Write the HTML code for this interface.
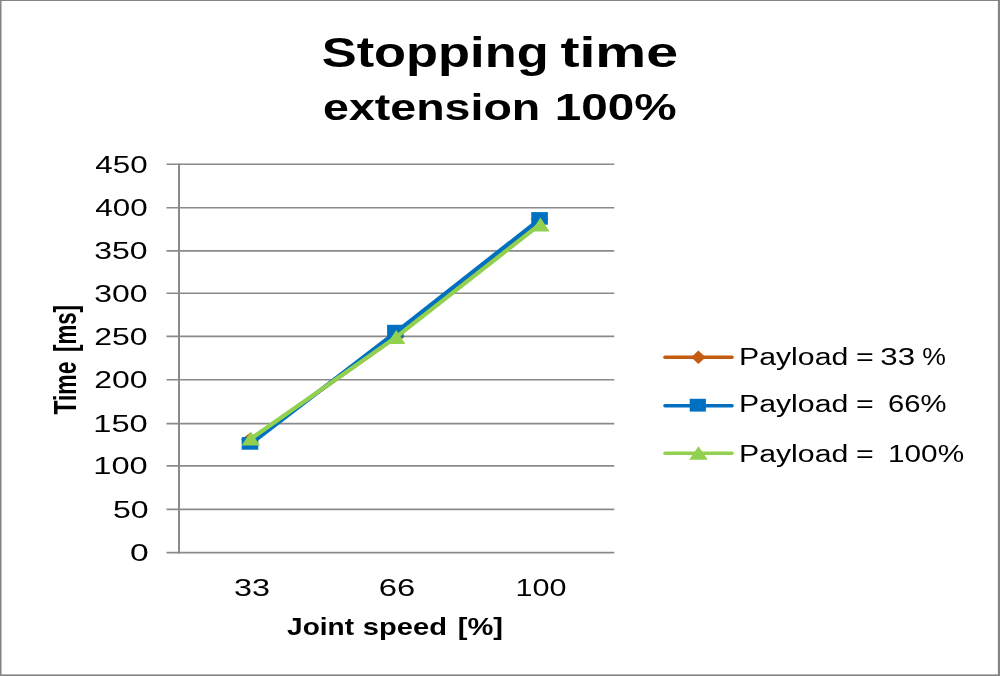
<!DOCTYPE html>
<html lang="en">
<head>
<meta charset="utf-8">
<title>Stopping time extension 100%</title>
<style>
html,body{margin:0;padding:0;background:#fff;}
body{width:1000px;height:676px;overflow:hidden;font-family:"Liberation Sans",sans-serif;}
svg{display:block;}
</style>
</head>
<body>
<svg width="1000" height="676" viewBox="0 0 1000 676">
<rect x="0" y="0" width="1000" height="676" fill="#ffffff"/>
<g fill="#848484"><rect x="0" y="0" width="1000" height="1"/><rect x="0" y="0" width="1.5" height="676"/><rect x="997.9" y="0" width="2.1" height="676"/><rect x="0" y="674.4" width="1000" height="1.6"/></g>
<line x1="166.5" y1="552.60" x2="614.3" y2="552.60" stroke="#8a8a8a" stroke-width="1.6"/>
<line x1="166.5" y1="509.40" x2="614.3" y2="509.40" stroke="#8a8a8a" stroke-width="1.6"/>
<line x1="166.5" y1="465.90" x2="614.3" y2="465.90" stroke="#8a8a8a" stroke-width="1.6"/>
<line x1="166.5" y1="423.60" x2="614.3" y2="423.60" stroke="#8a8a8a" stroke-width="1.6"/>
<line x1="166.5" y1="379.80" x2="614.3" y2="379.80" stroke="#8a8a8a" stroke-width="1.6"/>
<line x1="166.5" y1="336.40" x2="614.3" y2="336.40" stroke="#8a8a8a" stroke-width="1.6"/>
<line x1="166.5" y1="293.20" x2="614.3" y2="293.20" stroke="#8a8a8a" stroke-width="1.6"/>
<line x1="166.5" y1="250.90" x2="614.3" y2="250.90" stroke="#8a8a8a" stroke-width="1.6"/>
<line x1="166.5" y1="207.70" x2="614.3" y2="207.70" stroke="#8a8a8a" stroke-width="1.6"/>
<line x1="166.5" y1="164.20" x2="614.3" y2="164.20" stroke="#8a8a8a" stroke-width="1.6"/>
<line x1="179.0" y1="163.40" x2="179.0" y2="553.40" stroke="#8a8a8a" stroke-width="2"/>
<polyline points="250.4,440.2 395.8,337.4 540.0,219.8" fill="none" stroke="#C55A11" stroke-width="3.4" stroke-linejoin="round" stroke-linecap="round"/>
<polygon points="241.0,439.7 250.0,432.7 259.0,439.7 250.0,446.7" fill="#C55A11"/>
<polygon points="386.4,336.9 395.4,329.9 404.4,336.9 395.4,343.9" fill="#C55A11"/>
<polygon points="530.6,219.0 539.6,212.0 548.6,219.0 539.6,226.0" fill="#C55A11"/>
<polyline points="250.4,443.9 395.8,332.3 540.0,219.2" fill="none" stroke="#0070C0" stroke-width="4.2" stroke-linejoin="round" stroke-linecap="round"/>
<rect x="241.7" y="437.1" width="16.6" height="12.6" fill="#0070C0"/>
<rect x="387.1" y="324.8" width="16.6" height="12.6" fill="#0070C0"/>
<rect x="531.3" y="212.1" width="16.6" height="12.6" fill="#0070C0"/>
<polyline points="250.4,439.1 395.8,337.4 540.0,224.3" fill="none" stroke="#92D050" stroke-width="4.2" stroke-linejoin="round" stroke-linecap="round"/>
<polygon points="241.6,445.6 250.8,431.6 260.0,445.6" fill="#92D050"/>
<polygon points="387.0,344.1 396.2,330.1 405.4,344.1" fill="#92D050"/>
<polygon points="531.2,231.4 540.4,217.4 549.6,231.4" fill="#92D050"/>
<g font-family="'Liberation Sans', sans-serif" fill="#000">
<text font-weight="bold"><tspan x="321.7" y="67.0" font-size="43.4" textLength="226.99" lengthAdjust="spacingAndGlyphs">Stopping</tspan> <tspan x="560.4" y="67.0" font-size="43.4" textLength="117.69" lengthAdjust="spacingAndGlyphs">time</tspan></text>
<text font-weight="bold"><tspan x="323.0" y="120.0" font-size="37.6" textLength="217.26" lengthAdjust="spacingAndGlyphs">extension</tspan> <tspan x="554.7" y="120.0" font-size="37.6" textLength="121.81" lengthAdjust="spacingAndGlyphs">100%</tspan></text>
<text x="130.1" y="561.0" font-size="24.3" textLength="18.69" lengthAdjust="spacingAndGlyphs">0</text>
<text x="113.0" y="517.8" font-size="24.3" textLength="35.62" lengthAdjust="spacingAndGlyphs">50</text>
<text x="93.3" y="474.3" font-size="24.3" textLength="54.49" lengthAdjust="spacingAndGlyphs">100</text>
<text x="93.3" y="432.0" font-size="24.3" textLength="54.49" lengthAdjust="spacingAndGlyphs">150</text>
<text x="94.3" y="388.2" font-size="24.3" textLength="53.35" lengthAdjust="spacingAndGlyphs">200</text>
<text x="94.3" y="344.8" font-size="24.3" textLength="53.35" lengthAdjust="spacingAndGlyphs">250</text>
<text x="94.3" y="301.6" font-size="24.3" textLength="53.35" lengthAdjust="spacingAndGlyphs">300</text>
<text x="94.3" y="259.3" font-size="24.3" textLength="53.35" lengthAdjust="spacingAndGlyphs">350</text>
<text x="95.3" y="216.1" font-size="24.3" textLength="52.26" lengthAdjust="spacingAndGlyphs">400</text>
<text x="95.3" y="172.6" font-size="24.3" textLength="52.26" lengthAdjust="spacingAndGlyphs">450</text>
<text x="234.0" y="595.7" font-size="24.3" textLength="36.01" lengthAdjust="spacingAndGlyphs">33</text>
<text x="378.8" y="595.7" font-size="24.3" textLength="36.44" lengthAdjust="spacingAndGlyphs">66</text>
<text x="515.4" y="595.7" font-size="24.3" textLength="51.04" lengthAdjust="spacingAndGlyphs">100</text>
<text font-weight="bold"><tspan x="287.1" y="635.4" font-size="23.6" textLength="66.91" lengthAdjust="spacingAndGlyphs">Joint</tspan> <tspan x="362.8" y="635.4" font-size="23.6" textLength="84.13" lengthAdjust="spacingAndGlyphs">speed</tspan> <tspan x="457.8" y="635.4" font-size="23.6" textLength="45.26" lengthAdjust="spacingAndGlyphs">[%]</tspan></text>
<text><tspan x="739.0" y="365.3" font-size="23.5" textLength="109.33" lengthAdjust="spacingAndGlyphs">Payload</tspan> <tspan x="856.1" y="365.3" font-size="24.3" textLength="17.77" lengthAdjust="spacingAndGlyphs">=</tspan> <tspan x="880.3" y="365.3" font-size="24.3" textLength="34.78" lengthAdjust="spacingAndGlyphs">33</tspan> <tspan x="922.3" y="365.3" font-size="24.3" textLength="23.61" lengthAdjust="spacingAndGlyphs">%</tspan></text>
<text><tspan x="739.0" y="412.3" font-size="23.5" textLength="109.33" lengthAdjust="spacingAndGlyphs">Payload</tspan> <tspan x="856.1" y="412.3" font-size="24.3" textLength="17.77" lengthAdjust="spacingAndGlyphs">=</tspan> <tspan x="888.1" y="412.3" font-size="24.3" textLength="58.48" lengthAdjust="spacingAndGlyphs">66%</tspan></text>
<text><tspan x="739.0" y="461.6" font-size="23.5" textLength="109.33" lengthAdjust="spacingAndGlyphs">Payload</tspan> <tspan x="856.1" y="461.6" font-size="24.3" textLength="17.77" lengthAdjust="spacingAndGlyphs">=</tspan> <tspan x="888.0" y="461.6" font-size="24.3" textLength="76.13" lengthAdjust="spacingAndGlyphs">100%</tspan></text>
<g transform="translate(76.4,414.6) rotate(-90) scale(1,1.3)"><text font-size="24.3" font-weight="bold"><tspan x="0" y="0" textLength="53.0" lengthAdjust="spacingAndGlyphs">Time</tspan> <tspan x="62.6" y="0" textLength="47.0" lengthAdjust="spacingAndGlyphs">[ms]</tspan></text></g>
</g>
<line x1="665" y1="357.3" x2="732" y2="357.3" stroke="#C55A11" stroke-width="3.6" stroke-linecap="round"/>
<polygon points="691.2,357.3 698.4,350.5 705.6,357.3 698.4,364.1" fill="#C55A11"/>
<line x1="665" y1="405.7" x2="732" y2="405.7" stroke="#0070C0" stroke-width="3.6" stroke-linecap="round"/>
<rect x="689.7" y="398.8" width="16.2" height="12.8" fill="#0070C0"/>
<line x1="665" y1="453.2" x2="732" y2="453.2" stroke="#92D050" stroke-width="3.6" stroke-linecap="round"/>
<polygon points="689.2,459.8 698.5,446.2 707.8,459.8" fill="#92D050"/>
</svg>
</body>
</html>
